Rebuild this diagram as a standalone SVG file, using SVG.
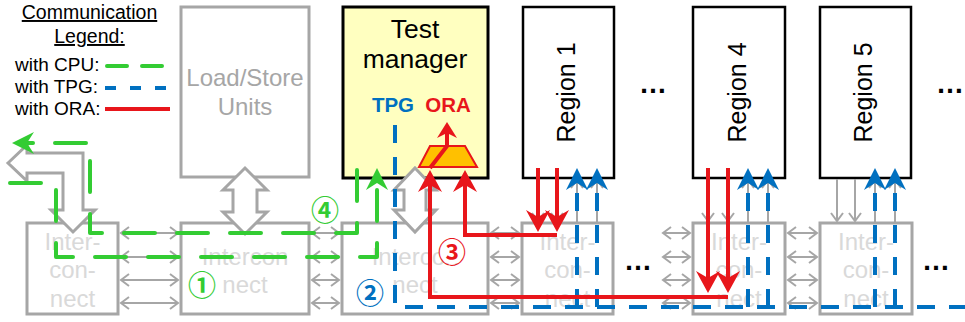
<svg xmlns="http://www.w3.org/2000/svg" width="965" height="322" viewBox="0 0 965 322">
<style>
.t{font-family:"Liberation Sans",Arial,sans-serif}
.gbox{fill:#fff;stroke:#a6a6a6;stroke-width:3}
.rbox{fill:#fff;stroke:#000;stroke-width:2.5}
.ict{font-family:"Liberation Sans",Arial,sans-serif;font-size:24px;fill:#d9d9d9;text-anchor:middle}
.sa{fill:none;stroke:#a6a6a6;stroke-width:2}
.big{fill:#fff;stroke:#a6a6a6;stroke-width:3;stroke-linejoin:miter}
.grn{fill:none;stroke:#33cc33;stroke-width:4;stroke-dasharray:31 22;stroke-linecap:round;stroke-linejoin:round}
.blu{fill:none;stroke:#0070c0;stroke-width:4;stroke-dasharray:18 14}
.red{fill:none;stroke:#e8161b;stroke-width:4}
.num{font-family:"Noto Sans CJK JP",sans-serif;font-size:28px;font-weight:bold;text-anchor:middle;dominant-baseline:central}
.dots{font-family:"Liberation Sans",Arial,sans-serif;font-size:28px;font-weight:bold;fill:#000}
</style>
<defs>
<marker id="ch" markerUnits="userSpaceOnUse" markerWidth="12" markerHeight="14" refX="8" refY="6" orient="auto-start-reverse" overflow="visible">
<path d="M0,0 L8,6 L0,12" fill="none" stroke="#a6a6a6" stroke-width="2"/>
</marker>
<marker id="aB" markerUnits="userSpaceOnUse" markerWidth="22" markerHeight="22" refX="7" refY="11" orient="auto" overflow="visible">
<path d="M0,0 L22,11 L0,22 L7,11 Z" fill="#0070c0"/>
</marker>
<marker id="aG" markerUnits="userSpaceOnUse" markerWidth="22" markerHeight="22" refX="7" refY="11" orient="auto" overflow="visible">
<path d="M0,0 L22,11 L0,22 L7,11 Z" fill="#33cc33"/>
</marker>
<marker id="aR" markerUnits="userSpaceOnUse" markerWidth="22" markerHeight="24" refX="7" refY="12" orient="auto" overflow="visible">
<path d="M0,0 L22,12 L0,24 L7,12 Z" fill="#e8161b"/>
</marker>
<marker id="aR2" markerUnits="userSpaceOnUse" markerWidth="16" markerHeight="20" refX="5" refY="10" orient="auto" overflow="visible">
<path d="M0,0 L16,10 L0,20 L5,10 Z" fill="#e8161b"/>
</marker>
</defs>
<rect width="965" height="322" fill="#fff"/>

<g id="legend" class="t" fill="#000">
<text x="89.5" y="19" font-size="19.5" text-anchor="middle" text-decoration="underline">Communication</text>
<text x="89.5" y="43" font-size="19.5" text-anchor="middle" text-decoration="underline">Legend:</text>
<text x="15" y="71" font-size="19">with CPU:</text>
<text x="15" y="93" font-size="19">with TPG:</text>
<text x="15" y="115" font-size="19">with ORA:</text>
<path d="M107,66 L168,66" stroke="#33cc33" stroke-width="4" stroke-linecap="round" stroke-dasharray="20 15" fill="none"/>
<path d="M105,88 L170,88" stroke="#0070c0" stroke-width="4" stroke-dasharray="11 14" fill="none"/>
<path d="M105,109 L170,109" stroke="#e8161b" stroke-width="4" fill="none"/>
</g>

<g id="load-store">
<rect class="gbox" x="181" y="7" width="128" height="170"/>
<text class="t" x="245" y="86" font-size="24" fill="#a6a6a6" text-anchor="middle">Load/Store</text>
<text class="t" x="245" y="115" font-size="24" fill="#a6a6a6" text-anchor="middle">Units</text>
</g>

<g id="test-manager">
<rect x="343" y="7" width="145" height="171" fill="#ffffc0" stroke="#000" stroke-width="3"/>
<text class="t" x="415" y="38" font-size="26.5" text-anchor="middle">Test</text>
<text class="t" x="415" y="68" font-size="26.5" text-anchor="middle">manager</text>
<text class="t" x="393" y="112" font-size="20.5" font-weight="bold" fill="#0070c0" text-anchor="middle">TPG</text>
<text class="t" x="448" y="112" font-size="20.5" font-weight="bold" fill="#e8161b" text-anchor="middle">ORA</text>
<polygon points="419,167 477,167 465,146 430,146" fill="#ffc000" stroke="#e8161b" stroke-width="2"/>
</g>

<g id="region1">
<rect class="rbox" x="523" y="7" width="91" height="171"/>
<text class="t" transform="translate(575,92.5) rotate(-90)" font-size="25" text-anchor="middle">Region 1</text>
</g>
<g id="region4">
<rect class="rbox" x="693" y="7" width="92" height="171"/>
<text class="t" transform="translate(746,92.5) rotate(-90)" font-size="25" text-anchor="middle">Region 4</text>
</g>
<g id="region5">
<rect class="rbox" x="820" y="7" width="91" height="171"/>
<text class="t" transform="translate(872,92.5) rotate(-90)" font-size="25" text-anchor="middle">Region 5</text>
</g>

<g id="dots">
<text class="dots" x="653" y="93" text-anchor="middle">…</text>
<text class="dots" x="936" y="93">…</text>
<text class="dots" x="638" y="270" text-anchor="middle">…</text>
<text class="dots" x="936" y="270" text-anchor="middle">…</text>
</g>

<g id="ic0">
<rect class="gbox" x="27" y="223" width="91" height="91"/>
<text class="ict" x="72.5" y="250">Inter-</text>
<text class="ict" x="72.5" y="278">con-</text>
<text class="ict" x="72.5" y="307">nect</text>
</g>
<g id="ic1">
<rect class="gbox" x="181" y="223" width="128" height="91"/>
<text class="ict" x="245" y="265">Intercon</text>
<text class="ict" x="245" y="293">nect</text>
</g>
<g id="ic2">
<rect class="gbox" x="342" y="223" width="146" height="91"/>
<text class="ict" x="415" y="265">Intercon</text>
<text class="ict" x="415" y="293">nect</text>
</g>
<g id="ic3">
<rect class="gbox" x="522" y="223" width="91" height="91"/>
<text class="ict" x="567.5" y="250">Inter-</text>
<text class="ict" x="567.5" y="278">con-</text>
<text class="ict" x="567.5" y="307">nect</text>
</g>
<g id="ic4">
<rect class="gbox" x="693" y="223" width="92" height="91"/>
<text class="ict" x="739" y="250">Inter-</text>
<text class="ict" x="739" y="278">con-</text>
<text class="ict" x="739" y="307">nect</text>
</g>
<g id="ic5">
<rect class="gbox" x="820" y="223" width="92" height="91"/>
<text class="ict" x="866" y="250">Inter-</text>
<text class="ict" x="866" y="278">con-</text>
<text class="ict" x="866" y="307">nect</text>
</g>

<g id="connectors">
<g class="sa">
<path d="M121,233 L178,233" marker-start="url(#ch)" marker-end="url(#ch)"/>
<path d="M121,257 L178,257" marker-start="url(#ch)" marker-end="url(#ch)"/>
<path d="M121,280 L178,280" marker-start="url(#ch)" marker-end="url(#ch)"/>
<path d="M121,303 L178,303" marker-start="url(#ch)" marker-end="url(#ch)"/>
<path d="M312,233 L339,233" marker-start="url(#ch)" marker-end="url(#ch)"/>
<path d="M312,257 L339,257" marker-start="url(#ch)" marker-end="url(#ch)"/>
<path d="M312,280 L339,280" marker-start="url(#ch)" marker-end="url(#ch)"/>
<path d="M312,303 L339,303" marker-start="url(#ch)" marker-end="url(#ch)"/>
<path d="M491,233 L519,233" marker-start="url(#ch)" marker-end="url(#ch)"/>
<path d="M491,257 L519,257" marker-start="url(#ch)" marker-end="url(#ch)"/>
<path d="M491,280 L519,280" marker-start="url(#ch)" marker-end="url(#ch)"/>
<path d="M491,303 L519,303" marker-start="url(#ch)" marker-end="url(#ch)"/>
<path d="M663,233 L690,233" marker-start="url(#ch)" marker-end="url(#ch)"/>
<path d="M663,257 L690,257" marker-start="url(#ch)" marker-end="url(#ch)"/>
<path d="M663,280 L690,280" marker-start="url(#ch)" marker-end="url(#ch)"/>
<path d="M663,303 L690,303" marker-start="url(#ch)" marker-end="url(#ch)"/>
<path d="M788,233 L817,233" marker-start="url(#ch)" marker-end="url(#ch)"/>
<path d="M788,257 L817,257" marker-start="url(#ch)" marker-end="url(#ch)"/>
<path d="M788,280 L817,280" marker-start="url(#ch)" marker-end="url(#ch)"/>
<path d="M788,303 L817,303" marker-start="url(#ch)" marker-end="url(#ch)"/>
<path d="M538,179 L538,221" marker-end="url(#ch)"/>
<path d="M557,179 L557,221" marker-end="url(#ch)"/>
<path d="M577,222 L577,180" marker-end="url(#ch)"/>
<path d="M597,222 L597,180" marker-end="url(#ch)"/>
<path d="M708,179 L708,221" marker-end="url(#ch)"/>
<path d="M728,179 L728,221" marker-end="url(#ch)"/>
<path d="M748,222 L748,180" marker-end="url(#ch)"/>
<path d="M768,222 L768,180" marker-end="url(#ch)"/>
<path d="M837,179 L837,221" marker-end="url(#ch)"/>
<path d="M855,179 L855,221" marker-end="url(#ch)"/>
<path d="M875,222 L875,180" marker-end="url(#ch)"/>
<path d="M895,222 L895,180" marker-end="url(#ch)"/>
</g>
<path class="big" d="M8,163 L27,145 L27,153 L83,153 L83,210 L95,210 L73,232 L51,210 L63,210 L63,173 L27,173 L27,181 Z"/>
<path class="big" d="M245,168 L267,190 L257,190 L257,212 L267,212 L245,234 L223,212 L233,212 L233,190 L223,190 Z"/>
<path class="big" d="M415,168 L436,190 L426,190 L426,210 L436,210 L415,232 L394,210 L404,210 L404,190 L394,190 Z"/>
<path class="grn" d="M357,170 L357,233 L90,233 L90,143 L27,143" marker-end="url(#aG)"/>
<path class="grn" d="M10,183 L56,183 L56,257 L377,257 L377,183" marker-end="url(#aG)"/>
<path class="blu" d="M395,125 L395,307 L965,307"/>
<path class="blu" d="M577,307 L577,183" marker-end="url(#aB)"/>
<path class="blu" d="M597,307 L597,183" marker-end="url(#aB)"/>
<path class="blu" d="M748,307 L748,183" marker-end="url(#aB)"/>
<path class="blu" d="M768,307 L768,183" marker-end="url(#aB)"/>
<path class="blu" d="M875,307 L875,183" marker-end="url(#aB)"/>
<path class="blu" d="M895,307 L895,183" marker-end="url(#aB)"/>
<path class="red" d="M538,168 L538,217" marker-end="url(#aR)"/>
<path class="red" d="M557,168 L557,217" marker-end="url(#aR)"/>
<path class="red" d="M557,235 L465,235 L465,185" marker-end="url(#aR)"/>
<path class="red" d="M708,168 L708,278" marker-end="url(#aR)"/>
<path class="red" d="M728,168 L728,278" marker-end="url(#aR)"/>
<path class="red" d="M728,297 L430,297 L430,185" marker-end="url(#aR)"/>
<path class="red" stroke-width="3" d="M430,168 L447,146 L447,133" marker-end="url(#aR2)"/>
</g>

<g id="labels">
<circle cx="452" cy="251" r="13" fill="#fff"/>
<text class="num" x="202" y="284" fill="#33cc33">①</text>
<text class="num" x="370" y="292" fill="#0070c0">②</text>
<text class="num" x="452" y="251" fill="#e8161b">③</text>
<text class="num" x="325" y="209" fill="#33cc33">④</text>
</g>
</svg>
